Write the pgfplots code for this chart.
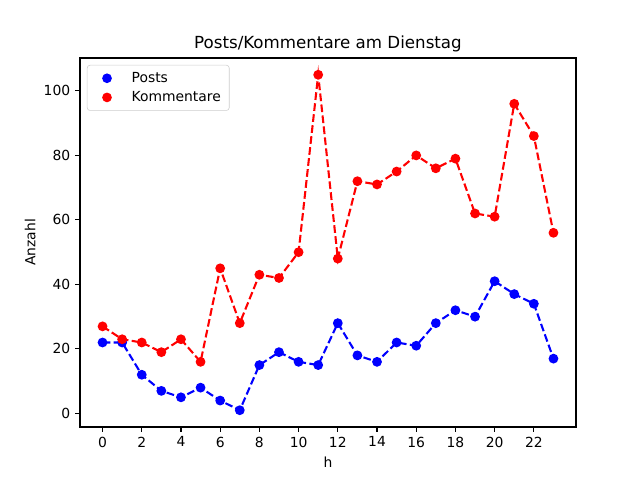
\documentclass[border=0pt]{standalone}
\usepackage{fontspec}
\setmainfont{DejaVu Sans}
\usepackage{pgfplots}
\pgfplotsset{compat=1.18}
\begin{document}
\begin{tikzpicture}
\useasboundingbox (-57.6pt,-38.16pt) rectangle (403.2pt,307.44pt);
\begin{axis}[
  at={(0,0)}, anchor=south west,
  scale only axis, width=357.12pt, height=265.68pt,
  xmin=-1.15, xmax=24.15, ymin=-4.2, ymax=110.2,
  xtick={0,2,...,22}, ytick={0,20,...,100},
  tick align=outside, tick pos=left,
  major tick length=3.5pt,
  every tick/.style={line width=0.8pt, black},
  axis line style={line width=0.8pt},
  /pgf/number format/assume math mode=true,
  ticklabel style={font=\fontsize{10pt}{12pt}\selectfont},
  label style={font=\fontsize{10pt}{12pt}\selectfont},
  xlabel={h}, ylabel={Anzahl},
  xlabel style={yshift=0pt},
  ylabel style={yshift=-1pt},
  title={Posts/Kommentare am Dienstag},
  title style={font=\fontsize{12pt}{14pt}\selectfont, yshift=-5pt},
  legend style={at={(0,1)}, anchor=north west, xshift=5pt, yshift=-5pt,
    draw=black!20, rounded corners=2pt, font=\fontsize{10pt}{12pt}\selectfont,
    row sep=1pt, inner xsep=4pt, inner ysep=3pt},
  legend cell align=left,
  legend image code/.code={\path[draw=none, fill=none] (0pt,0pt) -- (26pt,0pt); \node[circle, fill, draw=none, inner sep=0pt, minimum size=7pt] at (6pt,0pt) {};},
]
\addplot[color=blue, line width=1.5pt, dash pattern=on 5.55pt off 2.4pt, mark=*, mark size=3pt, mark options={solid, line width=1pt}]
coordinates {(0,22)(1,22)(2,12)(3,7)(4,5)(5,8)(6,4)(7,1)(8,15)(9,19)(10,16)(11,15)(12,28)(13,18)(14,16)(15,22)(16,21)(17,28)(18,32)(19,30)(20,41)(21,37)(22,34)(23,17)};
\addlegendentry{Posts}
\addplot[color=red, line width=1.5pt, dash pattern=on 5.55pt off 2.4pt, mark=*, mark size=3pt, mark options={solid, line width=1pt}]
coordinates {(0,27)(1,23)(2,22)(3,19)(4,23)(5,16)(6,45)(7,28)(8,43)(9,42)(10,50)(11,105)(12,48)(13,72)(14,71)(15,75)(16,80)(17,76)(18,79)(19,62)(20,61)(21,96)(22,86)(23,56)};
\addlegendentry{Kommentare}
\end{axis}
\end{tikzpicture}
\end{document}
